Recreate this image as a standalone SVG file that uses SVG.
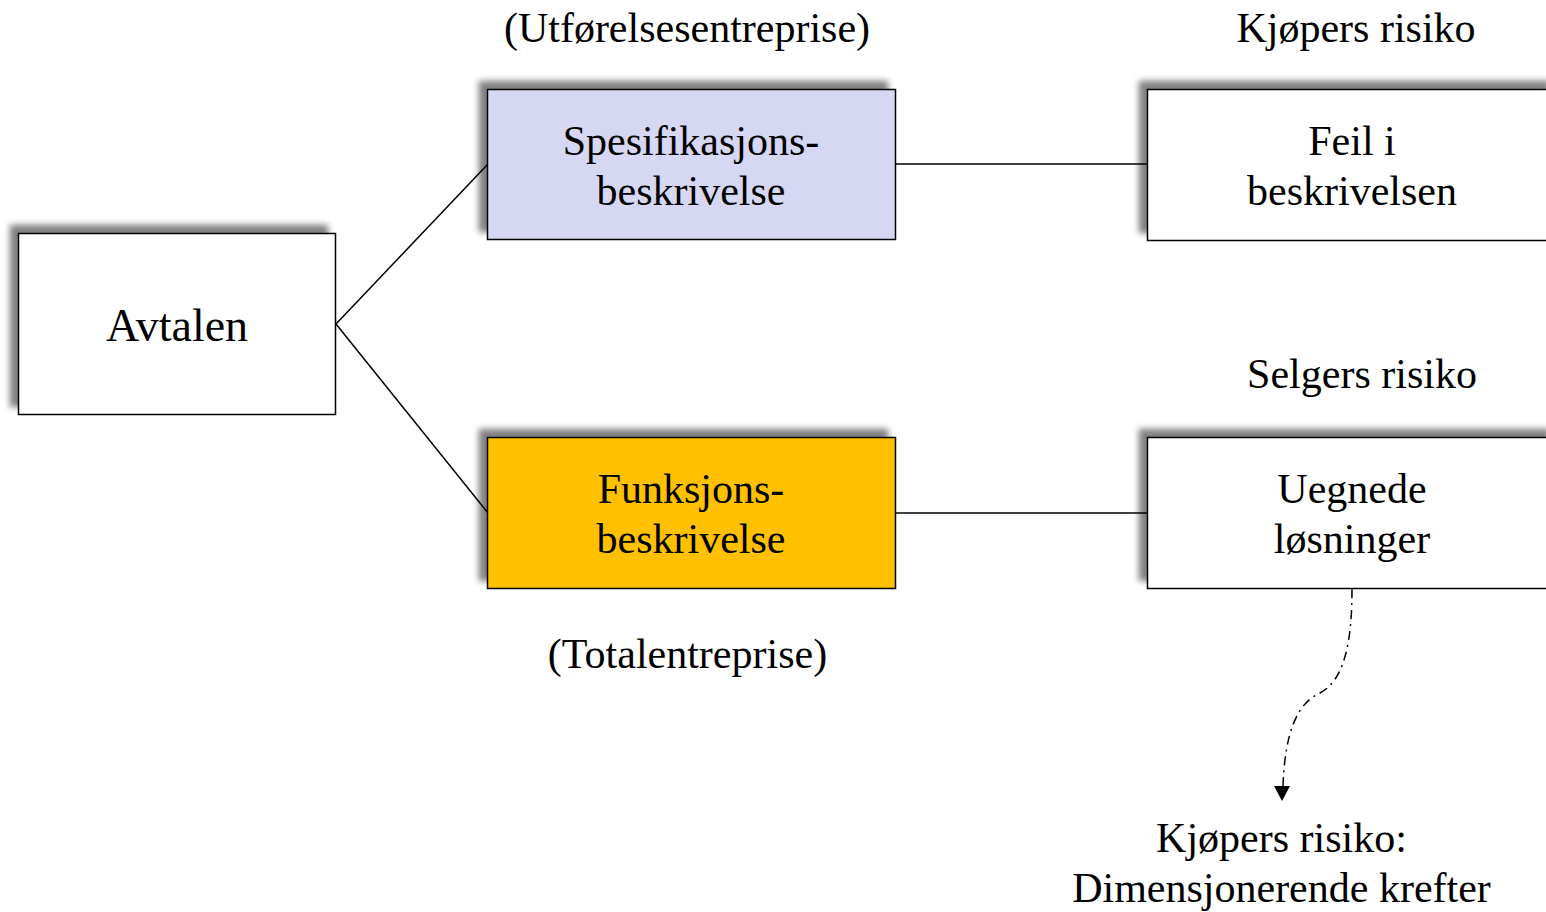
<svg xmlns="http://www.w3.org/2000/svg" width="1546" height="912" viewBox="0 0 1546 912">
<defs>
<filter id="sh" x="-10%" y="-15%" width="120%" height="130%">
<feOffset in="SourceAlpha" dx="-8" dy="-8"/>
<feGaussianBlur stdDeviation="3"/>
<feComponentTransfer><feFuncA type="linear" slope="0.5"/></feComponentTransfer>
<feMerge><feMergeNode/><feMergeNode in="SourceGraphic"/></feMerge>
</filter>
</defs>
<style>
text{font-family:"Liberation Serif","Times New Roman",serif;font-size:42px;fill:#000;text-anchor:middle}
.box{stroke:#000;stroke-width:1.5;filter:url(#sh)}
.ln{stroke:#000;stroke-width:1.5;fill:none}
</style>
<rect width="1546" height="912" fill="#fff"/>
<g id="connectors">
<line class="ln" x1="336" y1="324" x2="488" y2="164"/>
<line class="ln" x1="336" y1="324" x2="488" y2="513"/>
<line class="ln" x1="896" y1="164" x2="1148" y2="164"/>
<line class="ln" x1="896" y1="513" x2="1148" y2="513"/>
<path class="ln" d="M1352,589 C1352,640 1345,680 1320,693 C1298,703 1285,730 1283,786" stroke-dasharray="9 5 2 5"/>
<polygon points="1274,786 1290,786 1282,801" fill="#000"/>
</g>
<g id="avtalen">
<rect class="box" x="18.5" y="233.5" width="317" height="181" fill="#fff"/>
<text x="177" y="341" style="font-size:46px">Avtalen</text>
</g>
<g id="spesifikasjon">
<rect class="box" x="487.5" y="89.5" width="408" height="150" fill="#D6D8F3"/>
<text x="691" y="155">Spesifikasjons-</text>
<text x="691" y="205">beskrivelse</text>
</g>
<g id="funksjon">
<rect class="box" x="487.5" y="437.5" width="408" height="151" fill="#FFC000"/>
<text x="691" y="503">Funksjons-</text>
<text x="691" y="553">beskrivelse</text>
</g>
<g id="feil">
<rect class="box" x="1147.5" y="89.5" width="410" height="151" fill="#fff"/>
<text x="1352" y="155">Feil i</text>
<text x="1352" y="205">beskrivelsen</text>
</g>
<g id="uegnede">
<rect class="box" x="1147.5" y="437.5" width="410" height="151" fill="#fff"/>
<text x="1352" y="503">Uegnede</text>
<text x="1352" y="553">løsninger</text>
</g>
<g id="labels">
<text x="687" y="42">(Utførelsesentreprise)</text>
<text x="687.5" y="668">(Totalentreprise)</text>
<text x="1356" y="42">Kjøpers risiko</text>
<text x="1362" y="388">Selgers risiko</text>
<text x="1281.5" y="852">Kjøpers risiko:</text>
<text x="1281.5" y="902">Dimensjonerende krefter</text>
</g>
</svg>
